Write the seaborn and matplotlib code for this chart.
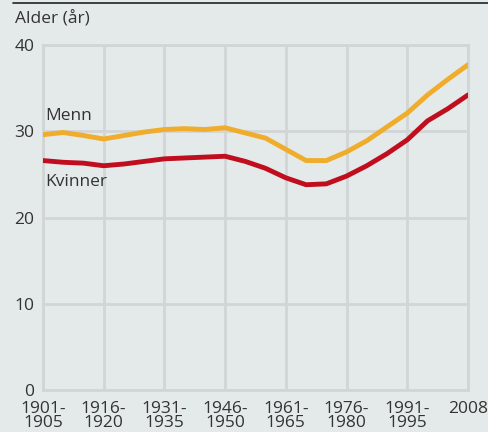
import numpy as np
import pandas as pd
import matplotlib.pyplot as plt
import seaborn as sns

# Periods (5-year groups, last point 2008)
periods = ["1901-1905", "1906-1910", "1911-1915", "1916-1920", "1921-1925",
           "1926-1930", "1931-1935", "1936-1940", "1941-1945", "1946-1950",
           "1951-1955", "1956-1960", "1961-1965", "1966-1970", "1971-1975",
           "1976-1980", "1981-1985", "1986-1990", "1991-1995", "1996-2000",
           "2001-2005", "2008"]
menn = [29.6, 29.85, 29.5, 29.1, 29.5, 29.9, 30.2, 30.3, 30.2, 30.4,
        29.8, 29.2, 27.9, 26.6, 26.6, 27.6, 28.9, 30.5, 32.1, 34.2, 36.0, 37.7]
kvinner = [26.6, 26.4, 26.3, 26.0, 26.2, 26.5, 26.8, 26.9, 27.0, 27.1,
           26.5, 25.7, 24.6, 23.8, 23.9, 24.8, 26.0, 27.4, 29.0, 31.2, 32.6, 34.2]
tick_labels = ["1901-\n1905", "1916-\n1920", "1931-\n1935", "1946-\n1950",
               "1961-\n1965", "1976-\n1980", "1991-\n1995", "2008"]
yticks = [0, 10, 20, 30, 40]

bg = "#e4eaea"
grid_col = "#d2d5d6"
text_col = "#333333"
colors = {"Menn": "#f0ad2b", "Kvinner": "#c00e1f"}

df = pd.DataFrame({"idx": np.arange(len(periods)), "Menn": menn, "Kvinner": kvinner})
long = df.melt(id_vars="idx", var_name="kjonn", value_name="alder")

sns.set_style("white")
plt.rcParams["font.family"] = ["Open Sans", "DejaVu Sans"]

fig = plt.figure(figsize=(4.88, 4.32), dpi=100, facecolor=bg)
ax = fig.add_axes([0.088, 0.097, 0.871, 0.799])
ax.set_facecolor(bg)

sns.lineplot(data=long, x="idx", y="alder", hue="kjonn", palette=colors,
             linewidth=3.5, legend=False, ax=ax, zorder=3)

ax.set_xlim(0, len(periods) - 1)
ax.set_ylim(0, 40)
ax.set_xticks(np.arange(0, len(periods), 3))
ax.set_xticklabels(tick_labels, fontsize=12.5, color=text_col, linespacing=0.85)
ax.set_yticks(yticks)
ax.set_yticklabels([str(v) for v in yticks], fontsize=12.5, color=text_col)
ax.tick_params(length=0, pad=6)
ax.tick_params(axis="x", pad=7.5)
ax.grid(True, color=grid_col, linewidth=2)
for s in ax.spines.values():
    s.set_color(grid_col)
    s.set_linewidth(2)
ax.set_xlabel("")
ax.set_ylabel("")

ax.text(0.1, 30.8, "Menn", fontsize=12.5, color=text_col, va="bottom")
ax.text(0.1, 25.0, "Kvinner", fontsize=12.5, color=text_col, va="top")

fig.text(0.031, 0.955, "Alder (år)", fontsize=12.5, color=text_col, va="center")
fig.add_artist(plt.Line2D([0.027, 1.0], [0.993, 0.993], color="#222222", linewidth=1.2))

fig.savefig("out.png", dpi=100, facecolor=bg)
